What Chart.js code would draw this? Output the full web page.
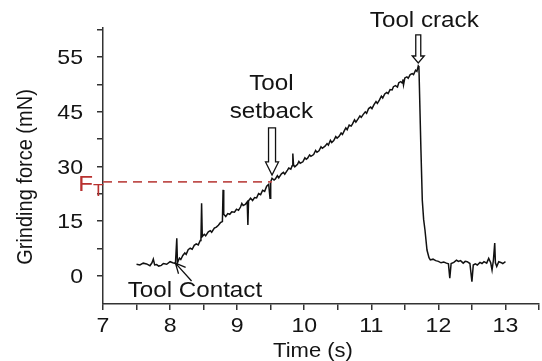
<!DOCTYPE html>
<html>
<head>
<meta charset="utf-8">
<script src="https://cdn.jsdelivr.net/npm/chart.js@4"></script>
<style>
  html, body { margin: 0; padding: 0; background: #fff; }
</style>
</head>
<body>
<canvas id="chart-area" width="542" height="361"></canvas>
<script>
// grinding force trace (time in s, force in axis units)
var timeS = [
  7.50, 7.55, 7.60, 7.65, 7.70, 7.73, 7.75, 7.77, 7.80, 7.83, 7.87, 7.90, 7.95, 8.00, 8.04, 8.08,
  8.10, 8.11, 8.14, 8.16, 8.19, 8.22, 8.24, 8.27, 8.30, 8.33, 8.36, 8.39, 8.42, 8.45, 8.46, 8.47, 8.48, 8.51, 8.53, 8.57,
  8.60, 8.62, 8.66, 8.69, 8.72, 8.75, 8.78, 8.79, 8.80, 8.83, 8.86, 8.89, 8.92, 8.96, 8.99, 9.02, 9.05, 9.07, 9.09, 9.12,
  9.15, 9.16, 9.17, 9.20, 9.23, 9.26, 9.29, 9.32, 9.35, 9.38, 9.41, 9.44, 9.47, 9.49,
  9.50, 9.52, 9.55, 9.57, 9.60, 9.62, 9.66, 9.69, 9.71, 9.75, 9.77, 9.80, 9.82, 9.83, 9.84, 9.86, 9.90, 9.92, 9.94, 9.98,
  10.01, 10.03, 10.05, 10.08, 10.10, 10.14, 10.17, 10.19, 10.22, 10.25, 10.27, 10.31, 10.34, 10.36, 10.39, 10.41, 10.44, 10.47, 10.49, 10.52,
  10.55, 10.57, 10.60, 10.62, 10.64, 10.67, 10.70, 10.72, 10.75, 10.77, 10.80, 10.83, 10.85, 10.88, 10.91, 10.93, 10.96, 10.99, 11.01, 11.04,
  11.07, 11.09, 11.12, 11.15, 11.17, 11.20, 11.23, 11.25, 11.28, 11.31, 11.33, 11.36, 11.39, 11.41, 11.44, 11.46, 11.47, 11.48, 11.50, 11.53,
  11.55, 11.58, 11.61, 11.63, 11.66, 11.68, 11.70, 11.71,
  11.74, 11.76, 11.78, 11.80, 11.83, 11.86, 11.88, 11.92, 11.96, 12.00, 12.04, 12.08, 12.12, 12.15, 12.17, 12.19, 12.23, 12.27, 12.30, 12.33,
  12.37, 12.40, 12.43, 12.47, 12.50, 12.52, 12.55, 12.58, 12.62, 12.65, 12.68, 12.72, 12.75, 12.78, 12.80, 12.82, 12.84, 12.85, 12.87, 12.90,
  12.93, 12.96, 13.00
];
var forceMN = [
  3.2, 3.0, 3.5, 3.3, 2.8, 3.6, 4.6, 3.0, 3.1, 2.7, 2.9, 3.4, 3.2, 3.9, 3.6, 3.4,
  10.3, 3.6, 4.9, 4.5, 5.6, 6.3, 5.9, 7.2, 7.6, 7.3, 8.4, 8.8, 8.5, 9.7, 9.9, 19.9, 10.8, 11.4, 11.0, 12.1,
  12.4, 12.0, 13.1, 13.4, 13.9, 14.6, 14.9, 23.6, 16.9, 16.3, 17.1, 16.9, 17.6, 17.5, 18.3, 18.0, 18.9, 19.9, 19.3, 19.6,
  20.3, 14.0, 20.6, 21.3, 20.7, 21.5, 21.4, 22.6, 22.3, 23.5, 23.2, 24.6, 25.1, 21.3,
  25.8, 26.8, 26.3, 26.6, 27.5, 26.9, 28.0, 28.4, 27.9, 29.0, 29.6, 29.3, 30.2, 33.6, 30.5, 29.9, 30.6, 31.4, 30.9, 31.3,
  32.4, 32.0, 32.3, 33.2, 32.8, 33.3, 34.4, 33.9, 34.3, 35.4, 35.0, 35.6, 36.3, 35.9, 37.2, 36.6, 37.1, 38.2, 37.8, 38.3,
  39.2, 38.8, 39.9, 40.6, 40.1, 41.4, 41.1, 41.7, 42.8, 42.2, 43.0, 43.9, 43.5, 44.3, 45.0, 44.6, 45.9, 46.3, 45.9, 47.0,
  47.8, 47.3, 48.2, 49.3, 48.8, 49.9, 50.3, 50.0, 51.1, 51.0, 51.9, 52.2, 51.8, 53.0, 53.3, 52.9, 53.9, 52.4, 54.3, 54.6,
  54.2, 55.2, 55.5, 55.2, 56.4, 56.1, 57.6, 57.3,
  34.5, 20.8, 15.5, 12.6, 7.1, 5.0, 4.4, 4.6, 4.2, 4.0, 3.6, 3.8, 3.5, 3.3, -0.6, 3.4, 3.7, 4.3, 4.0, 4.2,
  3.5, 4.0, 3.9, 3.4, -1.6, 3.0, 3.3, 3.0, 3.7, 3.4, 3.9, 3.5, 4.8, 3.6, 1.6, 4.3, 9.0, 3.6, 2.6, 3.9,
  3.7, 3.4, 3.9
];

// threshold force F_T, dashed from the axis to the setback point
var thresholdForce = 25.8;
var thresholdTime = [7, 9.52];

var xTicks = [7, 7.5, 8, 8.5, 9, 9.5, 10, 10.5, 11, 11.5, 12, 12.5, 13, 13.5];
var xTickValues = [7, 8, 9, 10, 11, 12, 13];
var yTicks = [0, 7.5, 15, 22.5, 30, 37.5, 45, 52.5, 60, 67.5];
var yTickValues = [0, 15, 30, 45, 60];
var yTickLabels = ['0', '15', '30', '45', '55'];

var FONT = '"Liberation Sans", Arial, sans-serif';
var INK = '#141414';
var WIDEN = 1.1;

// text drawn slightly widened, like the printed figure
function wideText(ctx, text, x, y, size, align) {
  ctx.save();
  ctx.translate(x, y);
  ctx.scale(WIDEN, 1);
  ctx.font = size + 'px ' + FONT;
  ctx.textAlign = align || 'center';
  ctx.fillText(text, 0, 0);
  ctx.restore();
}

function hollowArrow(ctx, x, yTop, yTip, shaftW, headW, headH) {
  ctx.beginPath();
  ctx.moveTo(x - shaftW / 2, yTop);
  ctx.lineTo(x + shaftW / 2, yTop);
  ctx.lineTo(x + shaftW / 2, yTip - headH);
  ctx.lineTo(x + headW / 2, yTip - headH);
  ctx.lineTo(x, yTip);
  ctx.lineTo(x - headW / 2, yTip - headH);
  ctx.lineTo(x - shaftW / 2, yTip - headH);
  ctx.closePath();
  ctx.fillStyle = '#fff';
  ctx.fill();
  ctx.stroke();
}

var labelsPlugin = {
  id: 'labels',
  afterDraw: function(chart) {
    var ctx = chart.ctx;
    var xs = chart.scales.x, ys = chart.scales.y;
    var px = function(v) { return xs.getPixelForValue(v); };
    var py = function(v) { return ys.getPixelForValue(v); };
    ctx.save();
    ctx.fillStyle = INK;
    ctx.strokeStyle = '#111';
    ctx.lineWidth = 1.3;
    ctx.textBaseline = 'alphabetic';

    // tick labels
    yTickValues.forEach(function(v, i) {
      wideText(ctx, yTickLabels[i], 83, py(v) + 7, 21, 'right');
    });
    xTickValues.forEach(function(v) {
      wideText(ctx, String(v), px(v), 332, 21, 'center');
    });

    // axis titles
    ctx.save();
    ctx.translate(32, 177);
    ctx.rotate(-Math.PI / 2);
    ctx.scale(1, WIDEN);
    ctx.font = '20px ' + FONT;
    ctx.textAlign = 'center';
    ctx.fillText('Grinding force (mN)', 0, 0);
    ctx.restore();
    wideText(ctx, 'Time (s)', 313, 357, 20);

    // annotations
    wideText(ctx, 'Tool crack', px(11.79), py(68.3), 22);
    wideText(ctx, 'Tool', px(9.51), py(51.0), 22);
    wideText(ctx, 'setback', px(9.51), py(43.3), 22);
    wideText(ctx, 'Tool Contact', px(8.37), py(-5.8), 22);

    hollowArrow(ctx, px(11.70), py(66.1), py(58.4), 5, 12, 7);
    hollowArrow(ctx, px(9.52), py(40.6), py(27.7), 7, 13, 13);

    // contact pointer
    var tx = px(8.08), ty = py(3.5), sx = px(8.32), sy = py(-1.4);
    var ang = Math.atan2(sy - ty, sx - tx);
    ctx.beginPath();
    ctx.moveTo(sx, sy);
    ctx.lineTo(tx, ty);
    ctx.moveTo(tx + 11 * Math.cos(ang - 0.45), ty + 11 * Math.sin(ang - 0.45));
    ctx.lineTo(tx, ty);
    ctx.lineTo(tx + 11 * Math.cos(ang + 0.45), ty + 11 * Math.sin(ang + 0.45));
    ctx.stroke();

    // F_T label
    ctx.fillStyle = '#b8312f';
    wideText(ctx, 'F', 93, py(thresholdForce) + 9, 22, 'right');
    wideText(ctx, 'T', 93, py(thresholdForce) + 14, 16, 'left');
    ctx.restore();
  }
};

var config = {
  type: 'line',
  data: {
    datasets: [{
      data: thresholdTime.map(function(t) { return { x: t, y: thresholdForce }; }),
      borderColor: '#c0504d',
      borderWidth: 1.6,
      borderDash: [9, 6],
      pointRadius: 0
    }, {
      data: timeS.map(function(t, i) { return { x: t, y: forceMN[i] }; }),
      borderColor: '#111',
      borderWidth: 1.5,
      pointRadius: 0,
      tension: 0
    }]
  },
  options: {
    responsive: false,
    animation: false,
    layout: { padding: { top: 28, right: 1, left: 0, bottom: 0 } },
    plugins: { legend: { display: false }, tooltip: { enabled: false } },
    scales: {
      x: {
        type: 'linear',
        min: 7,
        max: 13.5,
        afterBuildTicks: function(s) { s.ticks = xTicks.map(function(v) { return { value: v }; }); },
        afterFit: function(s) { s.height = 57; },
        ticks: { autoSkip: false, maxRotation: 0, callback: function() { return ''; } },
        grid: { drawOnChartArea: false, tickLength: 6, color: '#333', lineWidth: 1.5 },
        border: { color: '#333', width: 1.5 }
      },
      y: {
        min: -7.7,
        max: 68,
        afterBuildTicks: function(s) { s.ticks = yTicks.map(function(v) { return { value: v }; }); },
        afterFit: function(s) { s.width = 103; },
        ticks: { autoSkip: false, callback: function() { return ''; } },
        grid: { drawOnChartArea: false, tickLength: 6, color: '#333', lineWidth: 1.5 },
        border: { color: '#333', width: 1.5 }
      }
    }
  },
  plugins: [labelsPlugin]
};

window.onload = function() {
  var ctx = document.getElementById('chart-area').getContext('2d');
  new Chart(ctx, config);
};
</script>
</body>
</html>
